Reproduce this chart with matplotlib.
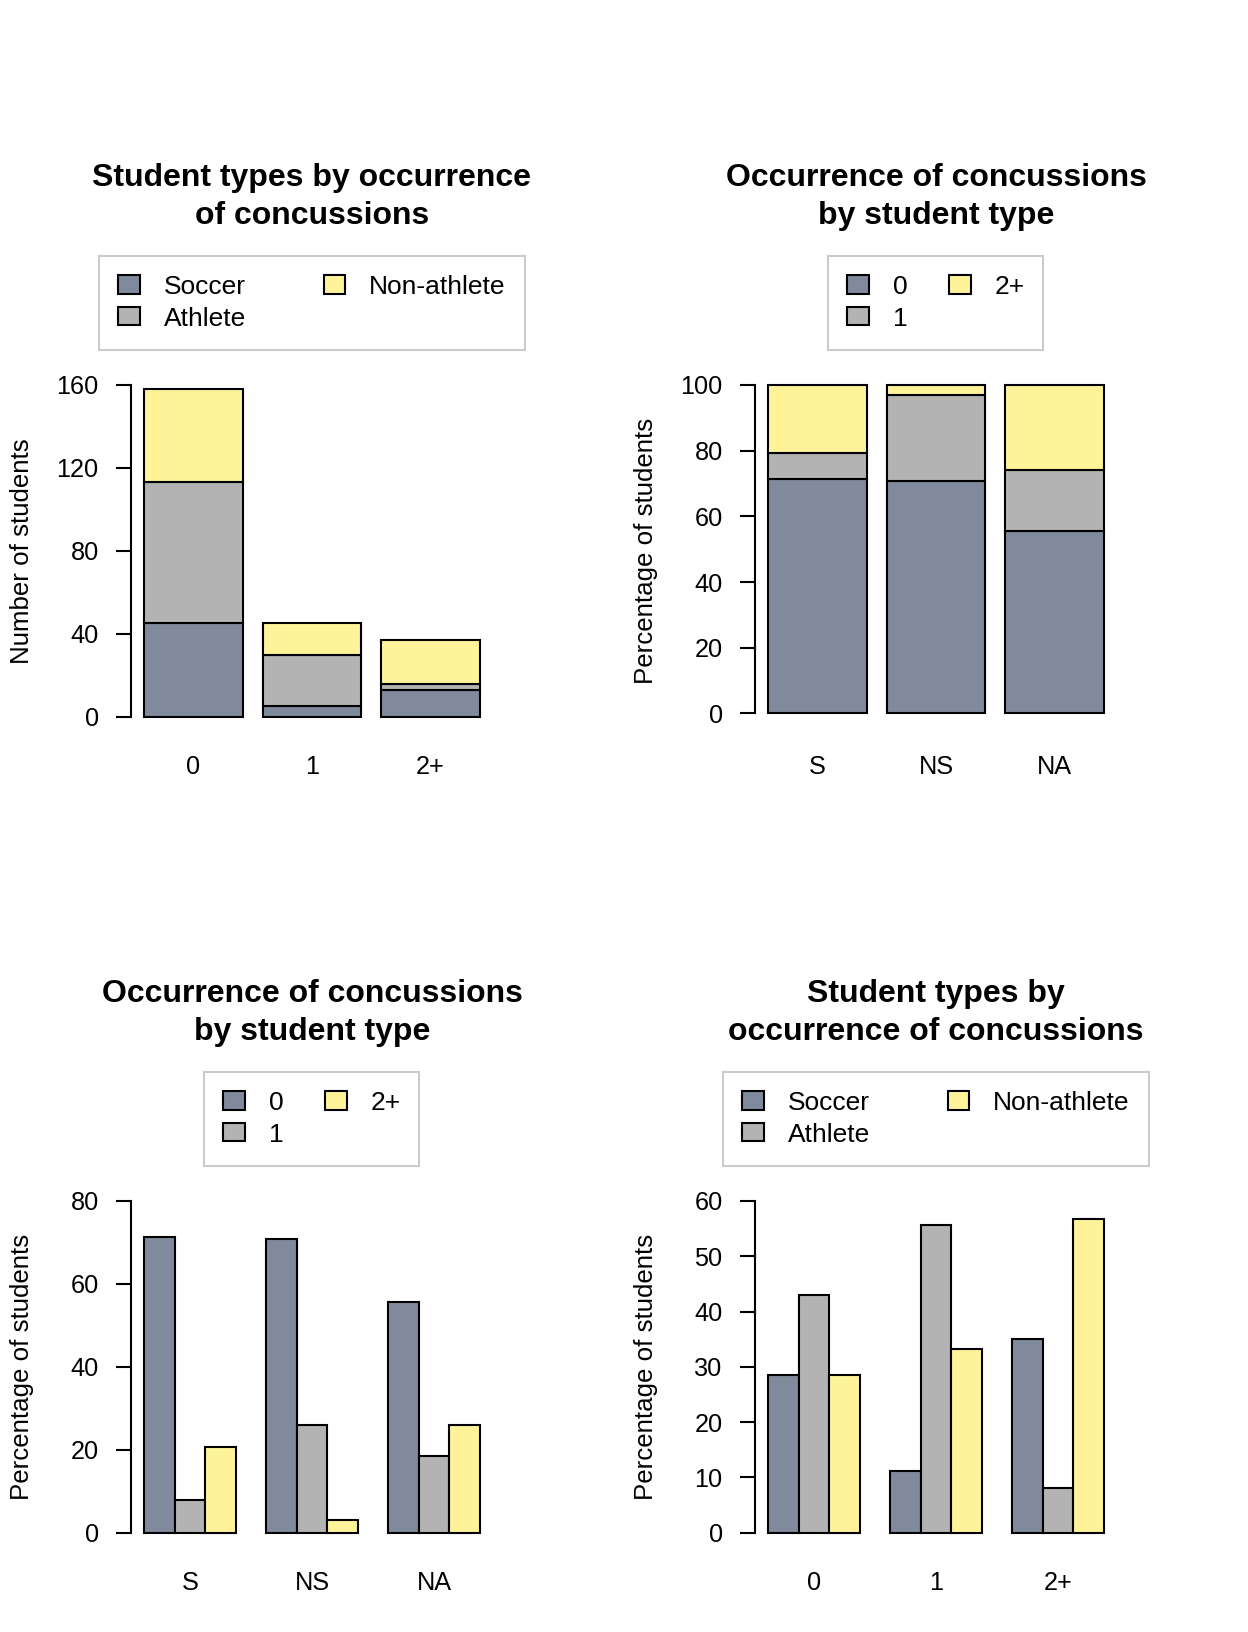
import matplotlib
matplotlib.use("Agg")
import matplotlib.pyplot as plt

plt.rcParams['font.family'] = ['Liberation Sans', 'DejaVu Sans']

# ---------------- data ----------------
concussion_levels = ['0', '1', '2+']
student_types = ['Soccer', 'Athlete', 'Non-athlete']
type_abbrev = ['S', 'NS', 'NA']

# counts of students (top-left, stacked by student type)
soccer_counts = [45, 5, 13]
athlete_counts = [68, 25, 3]
nonathlete_counts = [45, 15, 21]

# percentage of each student type by concussion occurrence (S, NS, NA)
pct_conc0_by_type = [71.4, 70.8, 55.6]
pct_conc1_by_type = [7.9, 26.0, 18.5]
pct_conc2_by_type = [20.6, 3.1, 25.9]

# percentage of each concussion group by student type (0, 1, 2+)
soccer_pct_by_conc = [28.5, 11.1, 35.1]
athlete_pct_by_conc = [43.0, 55.6, 8.1]
nonathlete_pct_by_conc = [28.5, 33.3, 56.8]

titles = ["Student types by occurrence\nof concussions",
          "Occurrence of concussions\nby student type",
          "Occurrence of concussions\nby student type",
          "Student types by\noccurrence of concussions"]
ylabels = ["Number of students", "Percentage of students",
           "Percentage of students", "Percentage of students"]

# ---------------- style ----------------
C_SLATE = '#808A9C'
C_GRAY = '#B3B3B3'
C_YELLOW = '#FFF399'
COLS = [C_SLATE, C_GRAY, C_YELLOW]
LW = 1.5
TICK_FS = 18.2
LAB_FS = 18.6
LEG_FS = 19.0
TITLE_FS = 23

W, H = 1248, 1632
fig = plt.figure(figsize=(W / 100, H / 100), dpi=100)

AX_W, AX_H = 362.7, 358.3
panel_origin = [(130.6, 371.7), (754.6, 371.7), (130.6, 1187.7), (754.6, 1187.7)]


def make_axes(x0, y0):
    return fig.add_axes([x0 / W, 1 - (y0 + AX_H) / H, AX_W / W, AX_H / H])


def style_axes(ax, xlim, ylim, yticks):
    ax.set_xlim(*xlim)
    ax.set_ylim(*ylim)
    for s in ['top', 'right', 'bottom']:
        ax.spines[s].set_visible(False)
    ax.spines['left'].set_bounds(yticks[0], yticks[-1])
    ax.spines['left'].set_linewidth(LW)
    ax.set_yticks(yticks)
    ax.tick_params(axis='y', length=11, width=LW, pad=12, labelsize=TICK_FS)
    ax.tick_params(axis='x', length=0, pad=18, labelsize=TICK_FS)
    ax.patch.set_visible(False)


def add_title(i, x0, y0):
    cx = x0 + AX_W / 2
    # baseline of the last title line
    fig.text(cx / W, 1 - (y0 - 147.5) / H, titles[i], ha='center', va='baseline',
             fontsize=TITLE_FS, fontweight='bold', linespacing=1.36)


def add_legend(ax, x0, y0, colspace):
    cx = x0 + AX_W / 2
    cy = y0 - 69.0
    leg = ax.legend(ncol=2, loc='center', bbox_to_anchor=(cx / W, 1 - cy / H),
                    bbox_transform=fig.transFigure, fontsize=LEG_FS,
                    frameon=True, fancybox=False, edgecolor='#BEBEBE',
                    handlelength=0.82, handleheight=0.68, handletextpad=0.9,
                    borderpad=0.72, labelspacing=0.30, columnspacing=colspace)
    leg.get_frame().set_linewidth(LW)


def add_ylabel(ax, i):
    ax.set_ylabel(ylabels[i], fontsize=LAB_FS)
    ax.yaxis.set_label_coords((34 - 130.6) / AX_W, 0.5)


stack_centers = [0.7, 1.9, 3.1]
stack_xlim = (0.064, 3.736)
group_starts = [1, 5, 9]
group_centers = [2.5, 6.5, 10.5]
group_xlim = (0.56, 12.44)

# ---- panel 1: counts stacked ----
x0, y0 = panel_origin[0]
ax = make_axes(x0, y0)
b1 = soccer_counts
b2 = [a + b for a, b in zip(soccer_counts, athlete_counts)]
ax.bar(stack_centers, soccer_counts, width=1, color=C_SLATE, edgecolor='black', lw=LW, label=student_types[0])
ax.bar(stack_centers, athlete_counts, bottom=b1, width=1, color=C_GRAY, edgecolor='black', lw=LW, label=student_types[1])
ax.bar(stack_centers, nonathlete_counts, bottom=b2, width=1, color=C_YELLOW, edgecolor='black', lw=LW, label=student_types[2])
style_axes(ax, stack_xlim, (-6.4, 166.4), [0, 40, 80, 120, 160])
ax.set_xticks(stack_centers, concussion_levels)
add_title(0, x0, y0)
add_legend(ax, x0, y0, 2.95)
add_ylabel(ax, 0)

# ---- panel 2: percentages stacked by type ----
x0, y0 = panel_origin[1]
ax = make_axes(x0, y0)
b1 = pct_conc0_by_type
b2 = [a + b for a, b in zip(pct_conc0_by_type, pct_conc1_by_type)]
ax.bar(stack_centers, pct_conc0_by_type, width=1, color=C_SLATE, edgecolor='black', lw=LW, label=concussion_levels[0])
ax.bar(stack_centers, pct_conc1_by_type, bottom=b1, width=1, color=C_GRAY, edgecolor='black', lw=LW, label=concussion_levels[1])
ax.bar(stack_centers, pct_conc2_by_type, bottom=b2, width=1, color=C_YELLOW, edgecolor='black', lw=LW, label=concussion_levels[2])
style_axes(ax, stack_xlim, (-5.04, 104.04), [0, 20, 40, 60, 80, 100])
ax.set_xticks(stack_centers, type_abbrev)
add_title(1, x0, y0)
add_legend(ax, x0, y0, 1.57)
add_ylabel(ax, 1)

# ---- panel 3: grouped percentages by type ----
x0, y0 = panel_origin[2]
ax = make_axes(x0, y0)
series = [pct_conc0_by_type, pct_conc1_by_type, pct_conc2_by_type]
for k, vals in enumerate(series):
    ax.bar([g + k + 0.5 for g in group_starts], vals, width=1, color=COLS[k],
           edgecolor='black', lw=LW, label=concussion_levels[k])
style_axes(ax, group_xlim, (-3.2, 83.2), [0, 20, 40, 60, 80])
ax.set_xticks(group_centers, type_abbrev)
add_title(2, x0, y0)
add_legend(ax, x0, y0, 1.57)
add_ylabel(ax, 2)

# ---- panel 4: grouped percentages by concussion ----
x0, y0 = panel_origin[3]
ax = make_axes(x0, y0)
series = [soccer_pct_by_conc, athlete_pct_by_conc, nonathlete_pct_by_conc]
for k, vals in enumerate(series):
    ax.bar([g + k + 0.5 for g in group_starts], vals, width=1, color=COLS[k],
           edgecolor='black', lw=LW, label=student_types[k])
style_axes(ax, group_xlim, (-2.4, 62.4), [0, 10, 20, 30, 40, 50, 60])
ax.set_xticks(group_centers, concussion_levels)
add_title(3, x0, y0)
add_legend(ax, x0, y0, 2.95)
add_ylabel(ax, 3)

fig.savefig("out.png", dpi=100, facecolor='white')
